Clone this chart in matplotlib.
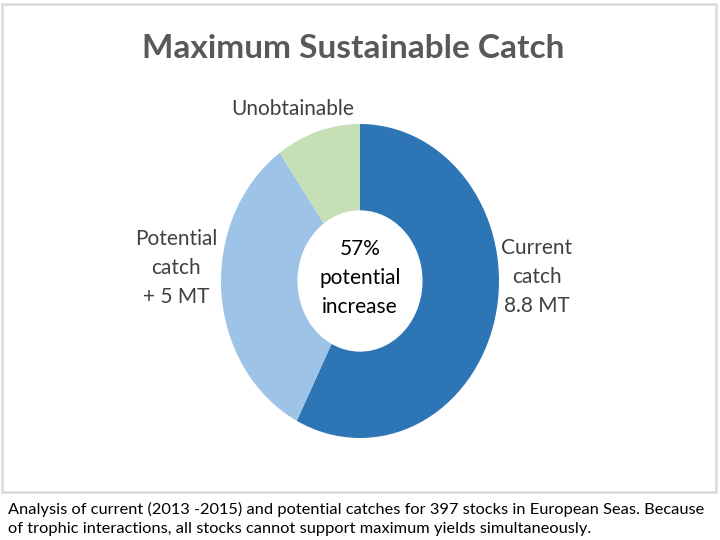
import matplotlib
matplotlib.use("Agg")
import matplotlib.pyplot as plt
from matplotlib.patches import Rectangle

categories = ["Current\ncatch\n8.8 MT", "Potential\ncatch\n+ 5 MT", "Unobtainable"]
values = [8.8, 5.0, 1.5]
colors = ["#2E75B6", "#9DC3E6", "#C5E0B4"]
title = "Maximum Sustainable Catch"
center_text = "57%\npotential\nincrease"
caption = ("Analysis of current (2013 -2015) and potential catches for 397 stocks in European Seas. Because\n"
           "of trophic interactions, all stocks cannot support maximum yields simultaneously.")

plt.rcParams['font.family'] = ['Lato', 'DejaVu Sans']

W, H = 720, 540
fig = plt.figure(figsize=(7.2, 5.4), dpi=100)

def fx(x):
    return x / W

def fy(y):
    return 1 - y / H

# border of chart area
fig.patches.append(Rectangle((fx(2), fy(492)), fx(716) - fx(2), fy(4) - fy(492),
                             transform=fig.transFigure, fill=False,
                             edgecolor="#D9D9D9", linewidth=1.8))

# donut axes
l, r, t, b = 221, 499, 124, 438
ax = fig.add_axes([fx(l), fy(b), fx(r) - fx(l), fy(t) - fy(b)])
wedges, _ = ax.pie(values, colors=colors, startangle=90, counterclock=False,
                   radius=1.0, wedgeprops=dict(width=0.55, edgecolor="none"))
ax.set_aspect('auto')
ax.set_xlim(-1, 1)
ax.set_ylim(-1, 1)
ax.axis('off')

fig.text(fx(353), fy(48), title, ha='center', va='center', fontsize=24,
         fontweight='bold', color='#595959')

label_pos = [(537, 277), (176, 268), (293, 109)]
for (x, y), lab in zip(label_pos, categories):
    fig.text(fx(x), fy(y), lab, ha='center', va='center', fontsize=15,
             color='#404040', linespacing=1.55)

fig.text(fx(360), fy(278), center_text, ha='center', va='center', fontsize=15,
         color='black', linespacing=1.55)

fig.text(fx(8), fy(519), caption, ha='left', va='center', fontsize=11.8,
         color='black', linespacing=1.38)

fig.savefig("out.png", dpi=100)
